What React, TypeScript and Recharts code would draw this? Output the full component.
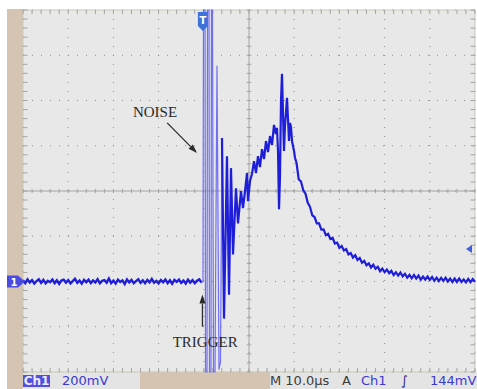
import {
  LineChart, Line, XAxis, YAxis, CartesianGrid, ReferenceLine, ReferenceDot, ReferenceArea,
} from 'recharts'

// time in µs (10 µs/div), voltage in mV (200 mV/div), ground 2 div below centre
const xTicks = [0, 10, 20, 30, 40, 50, 60, 70, 80, 90, 100]
const yTicks = [-400, -200, 0, 200, 400, 600, 800, 1000, 1200]

// before trigger, sampled every 0.5 µs from 0
const preTriggerMv = [
  5, -7, 9, -4, 6, -9, 2, 10, -6, 7, -8, 3, -3, 9, -7, 5, -10, 4, 8, -5,
  6, -8, 2, 12, -6, 4, -9, 7, -3, 8, -7, 5, -4, 10, -8, 3, 6, -5, 13, -7,
  4, -9, 8, -2, 5, -11, 9, -4, 7, -7, 2, 10, -6, 5, -8, 7, -4, 11, -5, 3,
  -8, 6, -3, 9, -7, 5, -10, 7, -2, 8, -6, 4, -9, 8, -5, 6, -7, 3, 9, -5,
]

// noise burst right after trigger (clipped at screen edges)
const burstTime = [39.82, 39.93, 40.27, 40.38, 40.71, 40.82, 41.15, 41.26, 41.59, 41.7, 41.92, 42.15, 42.48, 42.92, 43.36, 43.69, 44.03]
const burstMv = [0, 1200, 1200, -400, -400, 1200, 1200, -400, -400, 1200, 1200, -400, -400, 954, -390, -355, 634]

// ringing, ramp and pulse peak
const ringTime = [
  44.47, 45.13, 45.58, 46.02, 46.46, 47.12, 47.57, 48.23, 48.67, 49.12, 49.56, 49.78, 50.22, 50.66,
  51.11, 51.55, 51.99, 52.43, 52.88, 53.32, 53.76, 54.2, 54.65, 55.09, 55.53, 55.97, 56.19, 56.42,
  56.64, 56.86, 57.08, 57.3, 57.52, 57.74, 57.96, 58.41, 58.63, 58.85, 59.07, 59.29, 59.51, 59.96, 60.18,
]
const ringMv = [
  -164, 554, -58, 501, 120, 412, 257, 399, 324, 399, 479, 355, 444, 475,
  532, 479, 554, 506, 585, 541, 621, 572, 643, 603, 692, 652, 679, 577,
  319, 466, 798, 918, 745, 577, 687, 812, 718, 621, 701, 683, 621, 577, 546,
]

// decay, sampled every 0.5 µs from 60.5
const tailMv = [
  526, 452, 442, 404, 388, 348, 330, 292, 285, 257,
  257, 229, 230, 205, 211, 188, 193, 168, 172, 148,
  157, 137, 143, 120, 126, 106, 116, 95, 104, 83,
  91, 72, 80, 62, 74, 56, 65, 45, 57, 41,
  53, 37, 47, 29, 41, 26, 40, 23, 34, 17,
  29, 14, 29, 13, 26, 8, 22, 8, 22, 7,
  20, 3, 17, 2, 16, 3, 17, 0, 13, -2,
  13, -2, 13, -2, 9, -4, 11, -3, 11, -2,
]

const preData = preTriggerMv.map((v, i) => ({ t: i * 0.5, v }))
const burstData = [preData[preData.length - 1], ...burstTime.map((t, i) => ({ t, v: burstMv[i] }))]
const postData = [
  burstData[burstData.length - 1],
  ...ringTime.map((t, i) => ({ t, v: ringMv[i] })),
  ...tailMv.map((v, i) => ({ t: 60.5 + i * 0.5, v })),
]

const minorT = Array.from({ length: 51 }, (_, i) => i * 2)
const minorV = Array.from({ length: 41 }, (_, i) => -400 + i * 40)

const TRACE = '#1e1ed8'
const BURST = '#6f6ff0'
const TICK = '#a4a4a4'
const TAN = '#d6c4b2'

const Arrow = (p: any) => {
  const { x1, y1, x2, y2 } = p
  const a = Math.atan2(y2 - y1, x2 - x1)
  const L = 9
  const W = 3
  const bx = x2 - L * Math.cos(a)
  const by = y2 - L * Math.sin(a)
  const px = -Math.sin(a) * W
  const py = Math.cos(a) * W
  return (
    <g>
      <line x1={x1} y1={y1} x2={bx} y2={by} stroke="#2a2a2a" strokeWidth={1.3} />
      <polygon points={`${x2},${y2} ${bx + px},${by + py} ${bx - px},${by - py}`} fill="#2a2a2a" />
    </g>
  )
}

const label = (text: string) => (p: any) => (
  <text x={p.cx} y={p.cy} textAnchor="middle" dominantBaseline="central"
    fontFamily="Liberation Serif" fontSize={15} fill="#2a2a2a">{text}</text>
)

const GroundMarker = (p: any) => (
  <g>
    <path d={`M${p.cx - 16},${p.cy - 6} L${p.cx - 5},${p.cy - 6} L${p.cx + 2},${p.cy} L${p.cx - 5},${p.cy + 6} L${p.cx - 16},${p.cy + 6} Z`} fill="#4b4be0" />
    <text x={p.cx - 9} y={p.cy + 0.5} textAnchor="middle" dominantBaseline="central"
      fontFamily="DejaVu Sans" fontSize={10} fontWeight="bold" fill="#fff">1</text>
  </g>
)

const TriggerPos = (p: any) => (
  <g>
    <path d={`M${p.cx - 5},${p.cy + 2} L${p.cx + 5},${p.cy + 2} L${p.cx + 5},${p.cy + 16} L${p.cx},${p.cy + 21} L${p.cx - 5},${p.cy + 16} Z`} fill="#3f72d8" />
    <text x={p.cx} y={p.cy + 10} textAnchor="middle" dominantBaseline="central"
      fontFamily="DejaVu Sans" fontSize={10} fontWeight="bold" fill="#fff">T</text>
  </g>
)

const TriggerLevel = (p: any) => (
  <path d={`M${p.cx - 9},${p.cy} L${p.cx - 3},${p.cy - 4} L${p.cx - 3},${p.cy + 4} Z`} fill="#3f5fe0" />
)

const statusText = { position: 'absolute' as const, top: 372, lineHeight: '17px', fontFamily: 'DejaVu Sans', fontSize: 13 }

export default function App() {
  return (
    <div style={{ position: 'absolute', left: 0, top: 0, width: 477, height: 389, background: '#fff', overflow: 'hidden' }}>
      <div style={{ position: 'absolute', left: 7, top: 9, width: 16, height: 380, background: TAN }} />
      <div style={{ position: 'absolute', left: 23, top: 372, width: 454, height: 17, background: '#e4e4e4' }} />
      <div style={{ position: 'absolute', left: 140, top: 372, width: 130, height: 17, background: TAN }} />

      <div style={{ position: 'absolute', left: 0, top: 0 }}>
        <LineChart width={477} height={389} margin={{ top: 10, right: 2, left: 23, bottom: 17 }}>
          <CartesianGrid stroke="#8e8e8e" strokeDasharray="1 8" fill="#e8e8e8" />
          <XAxis type="number" dataKey="t" domain={[0, 100]} ticks={xTicks} hide />
          <YAxis type="number" dataKey="v" domain={[-400, 1200]} ticks={yTicks} hide />
          <ReferenceArea x1={0} x2={100} y1={-400} y2={1200} fill="none" stroke="#c9c9b4" />
          <ReferenceLine x={50} stroke={TICK} />
          <ReferenceLine y={400} stroke={TICK} />
          {minorT.map((t) => (
            <ReferenceLine key={`hc${t}`} stroke={TICK} segment={[{ x: t, y: 391 }, { x: t, y: 409 }]} />
          ))}
          {minorT.map((t) => (
            <ReferenceLine key={`tp${t}`} stroke={TICK} segment={[{ x: t, y: 1200 }, { x: t, y: 1182 }]} />
          ))}
          {minorT.map((t) => (
            <ReferenceLine key={`bt${t}`} stroke={TICK} segment={[{ x: t, y: -400 }, { x: t, y: -382 }]} />
          ))}
          {minorV.map((v) => (
            <ReferenceLine key={`vc${v}`} stroke={TICK} segment={[{ x: 49.5, y: v }, { x: 50.5, y: v }]} />
          ))}
          {minorV.map((v) => (
            <ReferenceLine key={`lf${v}`} stroke={TICK} segment={[{ x: 0, y: v }, { x: 1, y: v }]} />
          ))}
          {minorV.map((v) => (
            <ReferenceLine key={`rt${v}`} stroke={TICK} segment={[{ x: 99, y: v }, { x: 100, y: v }]} />
          ))}

          <Line data={preData} dataKey="v" type="linear" stroke={TRACE} strokeWidth={2.4} dot={false} isAnimationActive={false} />
          <Line data={burstData} dataKey="v" type="linear" stroke={BURST} strokeWidth={1.2} dot={false} isAnimationActive={false} />
          <Line data={postData} dataKey="v" type="linear" stroke={TRACE} strokeWidth={2.2} dot={false} isAnimationActive={false} />

          <ReferenceLine segment={[{ x: 31.9, y: 701 }, { x: 38.5, y: 568 }]} shape={Arrow} />
          <ReferenceLine segment={[{ x: 39.7, y: -200 }, { x: 39.7, y: -58 }]} shape={Arrow} />
          <ReferenceDot x={29.2} y={750} r={0} shape={label('NOISE')} />
          <ReferenceDot x={40.3} y={-266} r={0} shape={label('TRIGGER')} />
          <ReferenceDot x={0} y={0} r={0} shape={GroundMarker} />
          <ReferenceDot x={39.8} y={1200} r={0} shape={TriggerPos} />
          <ReferenceDot x={100} y={144} r={0} shape={TriggerLevel} />
        </LineChart>
      </div>

      <div style={{ ...statusText, left: 23, top: 375, width: 27, height: 12, lineHeight: '12px', background: '#5050dc', color: '#eaeaff', fontSize: 12, fontWeight: 'bold', textAlign: 'center' }}>Ch1</div>
      <div style={{ ...statusText, left: 62, color: '#3a3ad0' }}>200mV</div>
      <div style={{ ...statusText, left: 270, color: '#3c3c3c' }}>M 10.0µs</div>
      <div style={{ ...statusText, left: 342, color: '#3c3c3c' }}>A</div>
      <div style={{ ...statusText, left: 361, color: '#3a3ad0' }}>Ch1</div>
      <div style={{ ...statusText, left: 401, color: '#2a2a8a', fontStyle: 'italic' }}>∫</div>
      <div style={{ ...statusText, left: 430, color: '#3a3ad0' }}>144mV</div>
    </div>
  )
}
